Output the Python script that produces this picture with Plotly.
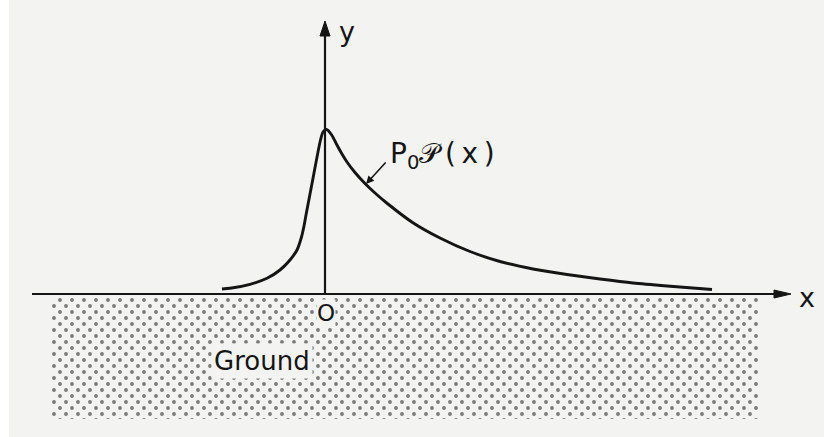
import plotly.graph_objects as go

# Load profile P0·𝒫(x) along the ground line (x = 0 at the origin O)
profile_x = [-1.03, -0.95, -0.75, -0.58, -0.45, -0.35, -0.28, -0.235, -0.21, -0.19, -0.15, -0.11,
             -0.07, -0.045, -0.02, 0.015, 0.067, 0.117, 0.167, 0.22, 0.3, 0.4, 0.5, 0.617,
             0.883, 1.15, 1.45, 1.75, 2.08, 2.42, 2.75, 3.08, 3.42, 3.87]
profile_y = [0.05, 0.057, 0.097, 0.157, 0.24, 0.34, 0.44, 0.57, 0.68, 0.79, 1.00, 1.21,
             1.42, 1.54, 1.62, 1.645, 1.59, 1.495, 1.405, 1.32, 1.215, 1.105, 1.01, 0.91,
             0.71, 0.56, 0.425, 0.325, 0.25, 0.195, 0.15, 0.11, 0.08, 0.045]

curve_label = "P<sub>0</sub>𝒫\u2009(\u2009x\u2009)"
ground_label = "Ground"

W, H = 824, 437
PAPER = "#f3f3f1"
INK = "#151515"
FONT = "DejaVu Sans"

# axis ranges chosen so that one data unit is 100 px
XR = [-3.25, 4.99]
YR = [-1.43, 2.94]
SHIFT = 0.06  # 6 px, half a pattern tile

# ground block extent
GX0, GX1 = -2.73, 4.34
GY0, GY1 = -0.03, -1.25

fig = go.Figure()

ground_x = [GX0, GX1, GX1, GX0, GX0]
ground_y = [GY0, GY0, GY1, GY1, GY0]
dots = dict(shape=".", size=12, solidity=0.08, fgcolor="#000000", bgcolor="rgba(0,0,0,0)")

# two dot lattices, the second offset by half a tile -> staggered stipple
fig.add_trace(go.Scatter(x=ground_x, y=ground_y, mode="none", fill="toself",
                         fillcolor="rgba(0,0,0,0)", fillpattern=dots,
                         hoverinfo="skip", showlegend=False))
fig.add_trace(go.Scatter(x=ground_x, y=ground_y, mode="none", fill="toself",
                         fillcolor="rgba(0,0,0,0)", fillpattern=dots,
                         xaxis="x2", yaxis="y2",
                         hoverinfo="skip", showlegend=False))

fig.add_trace(go.Scatter(x=profile_x, y=profile_y, mode="lines",
                         line=dict(color=INK, width=2.9, shape="spline", smoothing=0.7),
                         hoverinfo="skip", showlegend=False))

shapes = [
    # left white border strip
    dict(type="rect", xref="paper", yref="paper", x0=0, x1=9 / W, y0=0, y1=1,
         fillcolor="white", line_width=0, layer="below"),
    # x axis
    dict(type="line", x0=-2.93, x1=4.52, y0=0, y1=0, line=dict(color=INK, width=2.2)),
    dict(type="path", path="M 4.66 0 L 4.49 0.04 L 4.49 -0.04 Z",
         fillcolor=INK, line=dict(color=INK, width=1)),
    # y axis
    dict(type="line", x0=0, x1=0, y0=0, y1=2.62, line=dict(color=INK, width=2.2)),
    dict(type="path", path="M 0 2.73 L -0.05 2.58 L 0.05 2.58 Z",
         fillcolor=INK, line=dict(color=INK, width=1)),
]

annotations = [
    dict(x=0.22, y=2.63, text="y", showarrow=False, font=dict(family=FONT, size=27, color=INK)),
    dict(x=4.82, y=-0.03, text="x", showarrow=False, font=dict(family=FONT, size=27, color=INK)),
    dict(x=0.01, y=-0.185, text="O", showarrow=False, bgcolor=PAPER, borderpad=0,
         font=dict(family=FONT, size=23, color=INK)),
    dict(x=-0.63, y=-0.67, text=ground_label, showarrow=False, bgcolor=PAPER, borderpad=2,
         font=dict(family=FONT, size=26, color=INK)),
    dict(x=0.41, y=1.10, ax=0.62, ay=1.33, axref="x", ayref="y", text="",
         showarrow=True, arrowhead=2, arrowsize=1, arrowwidth=1.6, arrowcolor=INK),
    dict(x=0.63, y=1.39, text=curve_label, showarrow=False, xanchor="left",
         font=dict(family=FONT, size=28, color=INK)),
]

axis_off = dict(visible=False, showgrid=False, zeroline=False, fixedrange=True)
fig.update_layout(
    width=W, height=H,
    margin=dict(l=0, r=0, t=0, b=0),
    paper_bgcolor=PAPER, plot_bgcolor="rgba(0,0,0,0)",
    xaxis=dict(range=XR, domain=[0, 1], **axis_off),
    yaxis=dict(range=YR, domain=[0, 1], **axis_off),
    xaxis2=dict(range=[XR[0] + SHIFT, XR[1]], domain=[6 / W, 1], anchor="y2", **axis_off),
    yaxis2=dict(range=[YR[0], YR[1] - SHIFT], domain=[0, 1 - 6 / H], anchor="x2", **axis_off),
    shapes=shapes,
    annotations=annotations,
)

fig.write_html("out.html")
